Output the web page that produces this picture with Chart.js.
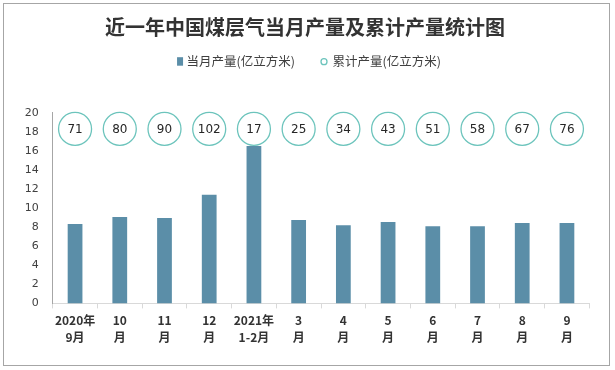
<!DOCTYPE html>
<html>
<head>
<meta charset="utf-8">
<script src="https://cdn.jsdelivr.net/npm/chart.js@4"></script>
<style>
html,body{margin:0;padding:0;background:#fff;}
#wrap{position:absolute;left:0;top:0;width:615px;height:370px;}
#frame{position:absolute;left:3px;top:3px;width:607px;height:363px;border:1px solid #a6a6a6;box-sizing:border-box;pointer-events:none;}
</style>
</head>
<body>
<div id="wrap"><canvas id="c" width="615" height="370"></canvas><div id="frame"></div></div>
<script>
const chartTitle = '近一年中国煤层气当月产量及累计产量统计图';
const categories = [['2020年','9月'],['10','月'],['11','月'],['12','月'],['2021年','1-2月'],['3','月'],['4','月'],['5','月'],['6','月'],['7','月'],['8','月'],['9','月']];
const monthly = [8.33, 9.07, 8.96, 11.4, 16.5, 8.75, 8.2, 8.54, 8.1, 8.1, 8.43, 8.43];
const cumulative = [71, 80, 90, 102, 17, 25, 34, 43, 51, 58, 67, 76];
const yTicks = [0, 2, 4, 6, 8, 10, 12, 14, 16, 18, 20];
const circleLevel = 18.3;

const barColor = '#5b8ea8';
const ringColor = '#6cc4bc';
const cjk = '"Noto Sans CJK SC", sans-serif';

const headerAndLabels = {
  id: 'headerAndLabels',
  afterDatasetsDraw(chart) {
    const ctx = chart.ctx;
    ctx.save();
    const meta = chart.getDatasetMeta(1);
    ctx.font = '12px "DejaVu Sans", sans-serif';
    ctx.fillStyle = '#262626';
    ctx.textAlign = 'center';
    ctx.textBaseline = 'middle';
    meta.data.forEach((pt, i) => {
      ctx.fillText(String(cumulative[i]), pt.x, pt.y + 1);
    });
    ctx.restore();
  },
  afterDraw(chart) {
    const ctx = chart.ctx;
    ctx.save();
    ctx.font = 'bold 20px ' + cjk;
    ctx.fillStyle = '#333333';
    ctx.textAlign = 'center';
    ctx.textBaseline = 'middle';
    ctx.fillText(chartTitle, 305, 27);
    const ds = chart.data.datasets;
    ctx.font = '12.5px ' + cjk;
    const w0 = ctx.measureText(ds[0].label).width;
    const w1 = ctx.measureText(ds[1].label).width;
    const total = 6 + 3.5 + w0 + 26 + 6 + 5.5 + w1;
    let x = 309 - total / 2;
    const cy = 61.7;
    ctx.fillStyle = ds[0].backgroundColor;
    ctx.fillRect(x, cy - 4.5, 6, 8.5);
    x += 9.5;
    ctx.fillStyle = '#404040';
    ctx.textAlign = 'left';
    ctx.fillText(ds[0].label, x, cy);
    x += w0 + 26;
    ctx.beginPath();
    ctx.arc(x + 3, cy, 3, 0, Math.PI * 2);
    ctx.strokeStyle = ds[1].pointBorderColor;
    ctx.lineWidth = 1.3;
    ctx.stroke();
    x += 11.5;
    ctx.fillStyle = '#404040';
    ctx.fillText(ds[1].label, x, cy);
    ctx.restore();
  }
};

new Chart(document.getElementById('c'), {
  data: {
    labels: categories,
    datasets: [
      {
        type: 'bar',
        label: '当月产量(亿立方米)',
        data: monthly,
        backgroundColor: barColor,
        barPercentage: 0.66,
        categoryPercentage: 0.5,
        order: 2
      },
      {
        type: 'line',
        label: '累计产量(亿立方米)',
        data: cumulative.map(() => circleLevel),
        showLine: false,
        pointRadius: 16.5,
        pointHoverRadius: 16.5,
        pointBackgroundColor: '#ffffff',
        pointBorderColor: ringColor,
        pointBorderWidth: 1.3,
        backgroundColor: '#ffffff',
        borderColor: ringColor,
        clip: false,
        order: 1
      }
    ]
  },
  options: {
    responsive: false,
    animation: false,
    events: [],
    layout: { padding: { left: 8, right: 25.7, top: 112.7, bottom: 20 } },
    plugins: {
      title: { display: false },
      legend: { display: false },
      tooltip: { enabled: false }
    },
    scales: {
      x: {
        offset: true,
        grid: { display: true, drawOnChartArea: false, drawTicks: true, tickLength: 5, color: '#d9d9d9', offset: true },
        border: { display: true, color: '#d9d9d9' },
        ticks: {
          color: '#333333',
          font: { family: cjk, size: 12, weight: 'bold', lineHeight: 1.4 },
          padding: 4,
          maxRotation: 0,
          autoSkip: false
        }
      },
      y: {
        min: 0,
        max: 20,
        afterBuildTicks(scale) { scale.ticks = yTicks.map(v => ({ value: v })); },
        afterFit(scale) { scale.width = 44.7; },
        grid: { display: false },
        border: { display: true, color: '#a6a6a6' },
        ticks: {
          color: '#404040',
          font: { family: '"DejaVu Sans", sans-serif', size: 11 },
          padding: 6
        }
      }
    }
  },
  plugins: [headerAndLabels]
});
</script>
</body>
</html>
